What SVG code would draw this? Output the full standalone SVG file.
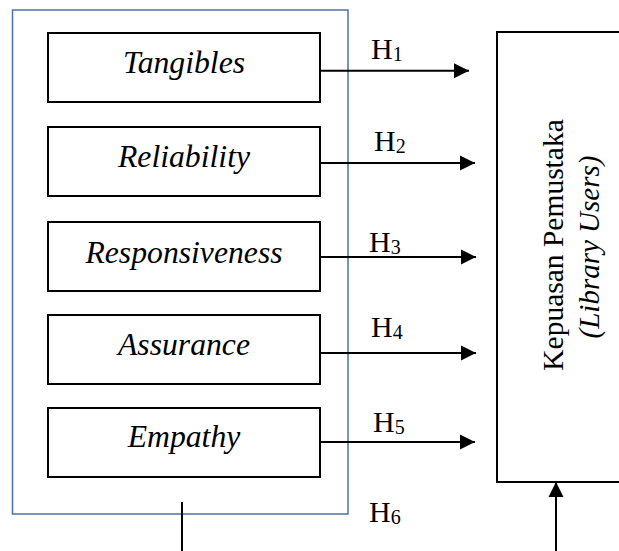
<svg xmlns="http://www.w3.org/2000/svg" width="619" height="551" viewBox="0 0 619 551">
<style>
.box{fill:#fff;stroke:#000;stroke-width:2}
.lbl{font-family:"Liberation Serif","Times New Roman",serif;font-style:italic;font-size:31.7px;text-anchor:middle;fill:#000}
.h{font-family:"Liberation Serif","Times New Roman",serif;font-size:30px;fill:#000}
.sub{font-size:20px}
.ln{stroke:#000;stroke-width:2;fill:none}
</style>
<defs>
<marker id="ah" markerUnits="userSpaceOnUse" markerWidth="16" markerHeight="16" viewBox="0 0 16 16" refX="15" refY="8" orient="auto">
<polygon points="0,0.5 15,8 0,15.5" fill="#000"/>
</marker>
</defs>
<rect width="619" height="551" fill="#fff"/>
<g id="group">
<rect x="12.5" y="10" width="335.5" height="504" fill="none" stroke="#4a72a8" stroke-width="1.5"/>
</g>
<g id="tangibles"><rect class="box" x="48" y="33" width="272" height="69"/><text class="lbl" x="184" y="73">Tangibles</text></g>
<g id="reliability"><rect class="box" x="48" y="127" width="272" height="69"/><text class="lbl" x="184" y="167">Reliability</text></g>
<g id="responsiveness"><rect class="box" x="48" y="222" width="272" height="69"/><text class="lbl" x="184" y="263">Responsiveness</text></g>
<g id="assurance"><rect class="box" x="48" y="315" width="272" height="69"/><text class="lbl" x="184" y="355">Assurance</text></g>
<g id="empathy"><rect class="box" x="48" y="408" width="272" height="69"/><text class="lbl" x="184" y="447">Empathy</text></g>
<g id="kepuasan">
<rect class="box" x="497" y="32" width="150" height="450"/>
<text font-family="'Liberation Serif','Times New Roman',serif" font-size="29.5" text-anchor="middle" transform="translate(563,245) rotate(-90)">Kepuasan Pemustaka</text>
<text font-family="'Liberation Serif','Times New Roman',serif" font-size="29" font-style="italic" text-anchor="middle" transform="translate(599,247) rotate(-90)">(Library Users)</text>
</g>
<g id="connectors">
<line class="ln" x1="320" y1="70.7" x2="469" y2="70.7" marker-end="url(#ah)"/>
<line class="ln" x1="320" y1="163" x2="475" y2="163" marker-end="url(#ah)"/>
<line class="ln" x1="320" y1="257" x2="476" y2="257" marker-end="url(#ah)"/>
<line class="ln" x1="320" y1="353" x2="476" y2="353" marker-end="url(#ah)"/>
<line class="ln" x1="320" y1="442" x2="475" y2="442" marker-end="url(#ah)"/>
<line class="ln" x1="182" y1="502" x2="182" y2="551"/>
<line class="ln" x1="556" y1="551" x2="556" y2="482" marker-end="url(#ah)"/>
<text class="h" x="371" y="59">H<tspan class="sub" dy="2">1</tspan></text>
<text class="h" x="374" y="151">H<tspan class="sub" dy="2">2</tspan></text>
<text class="h" x="369" y="252">H<tspan class="sub" dy="2">3</tspan></text>
<text class="h" x="371" y="337">H<tspan class="sub" dy="2">4</tspan></text>
<text class="h" x="373" y="432">H<tspan class="sub" dy="2">5</tspan></text>
<text class="h" x="369" y="522">H<tspan class="sub" dy="2">6</tspan></text>
</g>
</svg>
